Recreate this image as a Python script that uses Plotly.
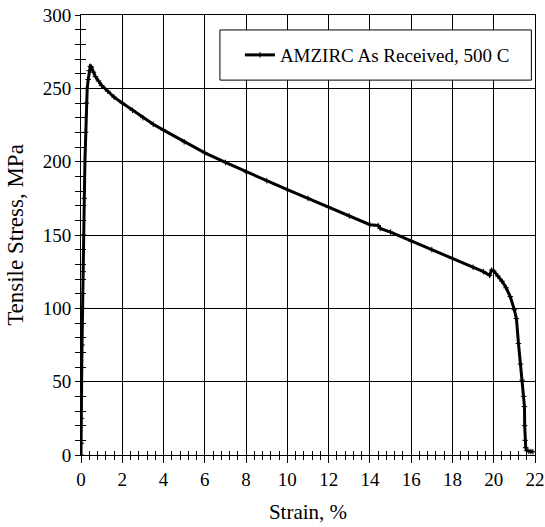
import plotly.graph_objects as go

# Tensile test record: engineering strain (%) and tensile stress (MPa)
strain = [0.0, 0.01, 0.02, 0.03, 0.05, 0.07, 0.10, 0.13, 0.16, 0.19, 0.22, 0.26,
          0.30, 0.35, 0.40, 0.45, 0.50, 0.60, 0.70, 0.85, 1.0, 1.3, 1.6, 2.0,
          2.5, 3.0, 3.5, 4.0, 5.0, 6.0, 7.0, 8.0, 9.0, 10.0, 11.0, 12.0, 13.0,
          14.0, 14.4, 14.5, 15.0, 16.0, 17.0, 18.0, 19.0, 19.5, 19.8, 19.9,
          20.0, 20.2, 20.4, 20.6, 20.8, 21.0, 21.1, 21.2, 21.3, 21.38, 21.45,
          21.49, 21.50, 21.52, 21.55, 21.6, 21.7, 21.8, 21.9]
stress = [0.0, 8.0, 25.0, 50.0, 75.0, 100.0, 125.0, 150.0, 175.0, 200.0, 220.0, 240.0,
          250.0, 256.0, 262.0, 265.0, 264.5, 261.0, 258.0, 255.0, 252.0, 248.0, 244.0, 240.0,
          235.0, 230.0, 225.5, 221.5, 213.5, 206.0, 199.5, 193.0, 187.0, 181.0, 175.0, 169.0, 163.0,
          157.0, 156.5, 154.5, 152.0, 146.0, 140.0, 134.0, 128.0, 125.0, 122.5, 126.0,
          125.5, 122.0, 118.5, 114.0, 108.0, 99.0, 93.0, 76.0, 62.0, 51.0, 40.0,
          33.0, 20.0, 10.0, 5.0, 3.0, 2.5, 2.3, 2.2]

series_name = "AMZIRC As Received, 500 C"
x_ticks = list(range(0, 23, 2))
y_ticks = list(range(0, 301, 50))

FONT = "'Liberation Serif', 'Times New Roman', serif"

fig = go.Figure()
fig.add_trace(go.Scatter(
    x=strain, y=stress, mode="lines+markers", name=series_name,
    line=dict(color="black", width=3),
    marker=dict(symbol="cross-thin", size=4, color="black",
                line=dict(color="black", width=1)),
))

axis_common = dict(showline=True, linecolor="black", linewidth=1,
                   tickcolor="black", tickwidth=1, zeroline=False,
                   automargin=False)

fig.update_layout(
    template="none",
    width=545, height=527,
    margin=dict(l=81, r=10, t=15, b=72, autoexpand=False),
    paper_bgcolor="white", plot_bgcolor="white",
    font=dict(family=FONT, size=19, color="black"),
    showlegend=True,
    legend=dict(x=0.35, xanchor="left", y=0.909, yanchor="middle",
                bgcolor="rgba(0,0,0,0)", borderwidth=0,
                font=dict(family=FONT, size=19, color="black")),
    xaxis=dict(range=[0, 22], tickvals=x_ticks, ticks="outside", ticklen=7,
               mirror=True, showgrid=True, gridcolor="black", gridwidth=1,
               ticklabeloverflow="allow",
               tickfont=dict(family=FONT, size=19),
               minor=dict(dtick=0.4, tick0=0, ticks="outside", ticklen=4,
                          tickcolor="black", showgrid=False),
               title=dict(text="Strain, %", standoff=15,
                          font=dict(family=FONT, size=21)),
               **axis_common),
    yaxis=dict(range=[0, 300], tickvals=y_ticks, ticks="outside", ticklen=5,
               mirror=True, showgrid=True, gridcolor="black", gridwidth=1,
               tickfont=dict(family=FONT, size=19),
               minor=dict(dtick=10, tick0=0, ticks="outside", ticklen=5,
                          tickcolor="black", showgrid=False),
               title=dict(text="Tensile Stress, MPa", standoff=12,
                          font=dict(family=FONT, size=23)),
               **axis_common),
    # companion axes carrying the inward half of each tick mark
    xaxis2=dict(overlaying="x", range=[0, 22], side="bottom",
                anchor="y", tickvals=x_ticks, ticks="inside", ticklen=5,
                showticklabels=False, showgrid=False, showline=False,
                tickcolor="black", zeroline=False, automargin=False,
                minor=dict(dtick=0.4, tick0=0, ticks="inside", ticklen=4,
                           tickcolor="black", showgrid=False)),
    yaxis2=dict(overlaying="y", range=[0, 300], side="left", anchor="x",
                tickvals=y_ticks, ticks="inside", ticklen=5,
                showticklabels=False, showgrid=False, showline=False,
                tickcolor="black", zeroline=False, automargin=False,
                minor=dict(dtick=10, tick0=0, ticks="inside", ticklen=5,
                           tickcolor="black", showgrid=False)),
    shapes=[dict(type="rect", xref="paper", yref="paper",
                 x0=0.306, x1=0.992, y0=0.852, y1=0.966,
                 line=dict(color="black", width=1), fillcolor="white",
                 layer="above")],
)

# invisible trace so the companion axes are rendered
fig.add_trace(go.Scatter(x=[None], y=[None], xaxis="x2", yaxis="y2",
                         showlegend=False, hoverinfo="skip"))

fig.write_html("out.html")
